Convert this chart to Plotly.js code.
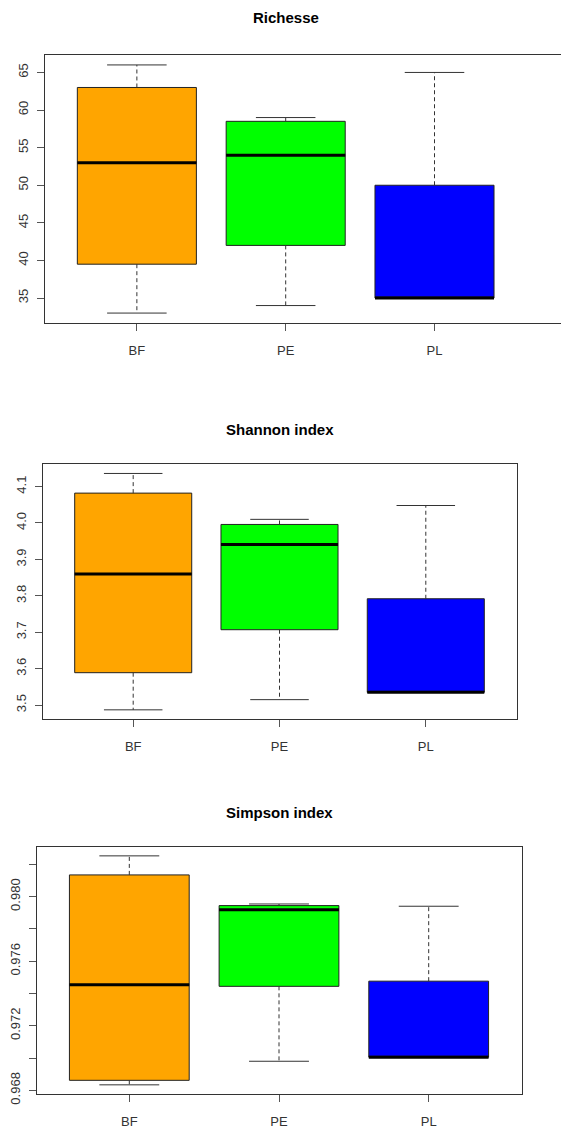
<!DOCTYPE html>
<html>
<head>
<meta charset="utf-8">
<script src="https://cdn.plot.ly/plotly-3.0.1.min.js"></script>
<style>
  html, body { margin: 0; padding: 0; background: #ffffff; overflow: hidden; }
  #chart { width: 561px; height: 1131px; }
</style>
</head>
<body>
<div id="chart"></div>
<script>
// Groups and their fill colours
const categories = ['BF', 'PE', 'PL'];
const groupColors = ['#FFA500', '#00FF00', '#0000FF'];

// Richesse (species richness) five-number summaries
const richMin = [33, 34, 35];
const richQ1 = [39.5, 42, 35];
const richMedian = [53, 54, 35];
const richQ3 = [63, 58.5, 50];
const richMax = [66, 59, 65];

// Shannon index summaries
const shanMin = [3.487, 3.515, 3.535];
const shanQ1 = [3.589, 3.707, 3.535];
const shanMedian = [3.860, 3.941, 3.535];
const shanQ3 = [4.082, 3.996, 3.792];
const shanMax = [4.136, 4.010, 4.048];

// Simpson index summaries
const simpMin = [0.96834, 0.96980, 0.97005];
const simpQ1 = [0.96862, 0.97444, 0.97005];
const simpMedian = [0.97454, 0.97919, 0.97005];
const simpQ3 = [0.98134, 0.97944, 0.97476];
const simpMax = [0.98252, 0.97954, 0.97940];

// Panel titles and y tick labels
const panelTitles = ['Richesse', 'Shannon index', 'Simpson index'];
const richTicks = [35, 40, 45, 50, 55, 60, 65];
const richTickText = ['35', '40', '45', '50', '55', '60', '65'];
const shanTicks = [3.5, 3.6, 3.7, 3.8, 3.9, 4.0, 4.1];
const shanTickText = ['3.5', '3.6', '3.7', '3.8', '3.9', '4.0', '4.1'];
const simpTicks = [0.968, 0.970, 0.972, 0.974, 0.976, 0.978, 0.980, 0.982];
const simpTickText = ['0.968', '', '0.972', '', '0.976', '', '0.980', ''];

const positions = categories.map((c, i) => i + 1);
const BOX_W = 0.8;
const FONT = 'Liberation Sans, Arial, Helvetica, sans-serif';

function panelTraces(mins, q1s, meds, q3s, maxs, xa, ya) {
  const traces = [];
  // dashed whiskers and their solid end caps
  const wx = [], wy = [], cx = [], cy = [], mx = [], my = [];
  positions.forEach((p, i) => {
    wx.push(p, p, null, p, p, null);
    wy.push(q3s[i], maxs[i], null, q1s[i], mins[i], null);
    cx.push(p - BOX_W / 4, p + BOX_W / 4, null, p - BOX_W / 4, p + BOX_W / 4, null);
    cy.push(maxs[i], maxs[i], null, mins[i], mins[i], null);
    mx.push(p - BOX_W / 2, p + BOX_W / 2, null);
    my.push(meds[i], meds[i], null);
  });
  traces.push({
    type: 'scatter', mode: 'lines', x: wx, y: wy, xaxis: xa, yaxis: ya,
    line: { color: '#333333', width: 1, dash: '4px,3px' }, hoverinfo: 'skip'
  });
  traces.push({
    type: 'scatter', mode: 'lines', x: cx, y: cy, xaxis: xa, yaxis: ya,
    line: { color: '#333333', width: 1 }, hoverinfo: 'skip'
  });
  // boxes
  positions.forEach((p, i) => {
    traces.push({
      type: 'box', x: [p], q1: [q1s[i]], median: [meds[i]], q3: [q3s[i]],
      lowerfence: [q1s[i]], upperfence: [q3s[i]],
      width: BOX_W, whiskerwidth: 0, boxpoints: false,
      fillcolor: groupColors[i], line: { color: '#222222', width: 1 },
      xaxis: xa, yaxis: ya, hoverinfo: 'skip', name: categories[i]
    });
  });
  // thick median bars
  traces.push({
    type: 'scatter', mode: 'lines', x: mx, y: my, xaxis: xa, yaxis: ya,
    line: { color: '#000000', width: 3 }, hoverinfo: 'skip'
  });
  return traces;
}

function padRange(mins, maxs) {
  const lo = Math.min(...mins), hi = Math.max(...maxs);
  const pad = (hi - lo) * 0.04;
  return [lo - pad, hi + pad];
}

const data = [].concat(
  panelTraces(richMin, richQ1, richMedian, richQ3, richMax, 'x', 'y'),
  panelTraces(shanMin, shanQ1, shanMedian, shanQ3, shanMax, 'x2', 'y2'),
  panelTraces(simpMin, simpQ1, simpMedian, simpQ3, simpMax, 'x3', 'y3')
);

const W = 561, H = 1131;
function xAxis(domain, range, anchor) {
  return {
    domain: domain, range: range, anchor: anchor,
    tickvals: positions, ticktext: categories,
    ticks: 'outside', ticklen: 7, tickcolor: '#555555', tickwidth: 1,
    ticklabelstandoff: 8,
    showline: true, mirror: true, linecolor: '#333333', linewidth: 1,
    showgrid: false, zeroline: false, fixedrange: true,
    tickfont: { family: FONT, size: 13, color: '#333333' }
  };
}
function yAxis(domain, range, anchor, vals, text, mirror) {
  return {
    domain: domain, range: range, anchor: anchor,
    tickvals: vals, ticktext: text, tickangle: -90,
    ticks: 'outside', ticklen: 7, tickcolor: '#555555', tickwidth: 1,
    ticklabelstandoff: 3,
    showline: true, mirror: mirror, linecolor: '#333333', linewidth: 1,
    showgrid: false, zeroline: false, fixedrange: true,
    tickfont: { family: FONT, size: 13, color: '#333333' }
  };
}

const xr = [0.38, 3.62];
const layout = {
  width: W, height: H,
  margin: { l: 0, r: 0, t: 0, b: 0 },
  paper_bgcolor: '#ffffff', plot_bgcolor: '#ffffff',
  showlegend: false,
  xaxis: xAxis([44.6 / W, 1], [0.38, 3.85], 'y'),
  yaxis: yAxis([(H - 323) / H, (H - 55) / H], padRange(richMin, richMax), 'x', richTicks, richTickText, false),
  xaxis2: xAxis([42.5 / W, 516.5 / W], xr, 'y2'),
  yaxis2: yAxis([(H - 719.3) / H, (H - 464) / H], padRange(shanMin, shanMax), 'x2', shanTicks, shanTickText, true),
  xaxis3: xAxis([36.5 / W, 521.5 / W], xr, 'y3'),
  yaxis3: yAxis([(H - 1094) / H, (H - 846.7) / H], padRange(simpMin, simpMax), 'x3', simpTicks, simpTickText, true),
  annotations: [
    [285.6, 17.3], [279.5, 429.3], [279, 812.7]
  ].map((pos, i) => ({
    text: '<b>' + panelTitles[i] + '</b>',
    xref: 'paper', yref: 'paper',
    x: pos[0] / W, y: (H - pos[1]) / H,
    xanchor: 'center', yanchor: 'middle', showarrow: false,
    font: { family: FONT, size: 15, color: '#000000' }
  }))
};

Plotly.newPlot('chart', data, layout, { staticPlot: true, displayModeBar: false });
</script>
</body>
</html>
